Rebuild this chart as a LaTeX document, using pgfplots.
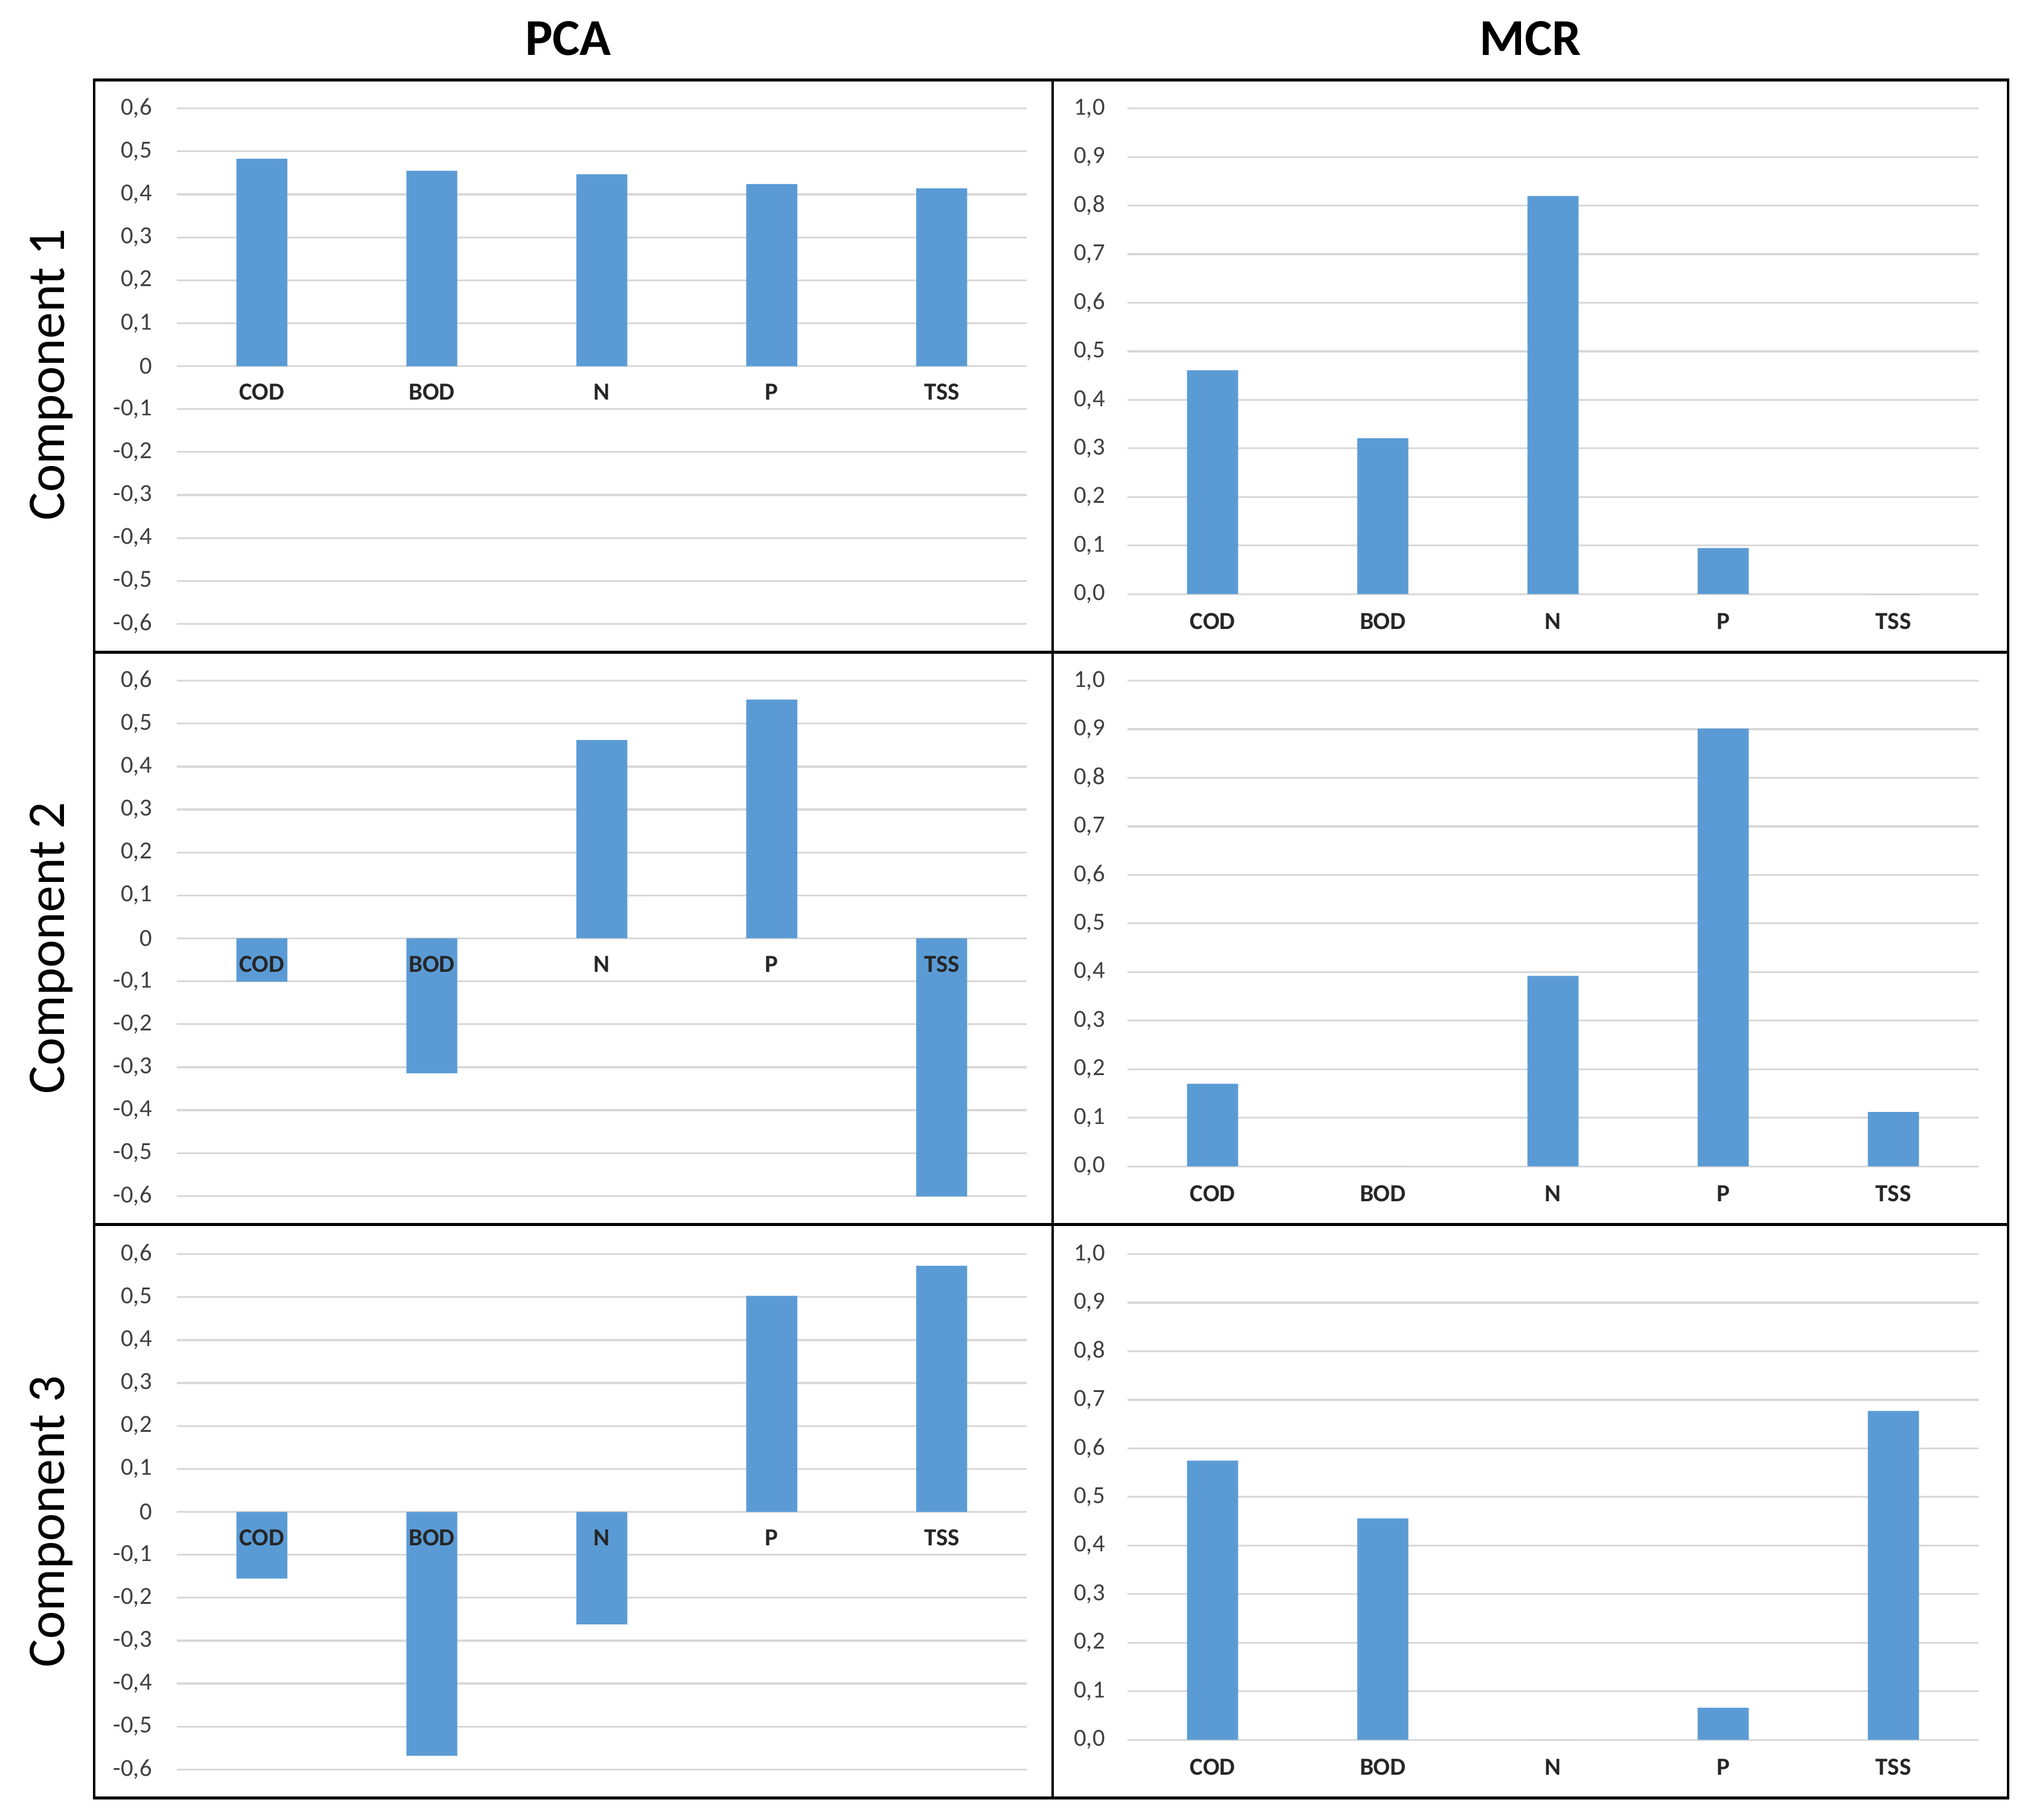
\documentclass[border=0pt]{standalone}
\usepackage{pgfplots}
\pgfplotsset{compat=1.18}
\usepackage{fontspec}
\setmainfont{Carlito}
\definecolor{barblue}{HTML}{5B9BD5}
\definecolor{gridgray}{HTML}{D9D9D9}
\definecolor{ticktext}{HTML}{404040}
\pgfplotsset{
  panel/.style={
    scale only axis, anchor=south west,
    xmin=-0.5, xmax=4.5,
    axis line style={draw=none}, tick style={draw=none}, major tick length=0pt,
    ymajorgrids, grid style={line width=0.75pt, color=gridgray},
    xtick={0,1,2,3,4}, xticklabels={COD,BOD,N,P,TSS},
    ybar, bar width=0.3, bar shift=0pt,
    xticklabel style={font=\fontsize{9.5}{10}\selectfont\bfseries, text=black!85, anchor=center},
    yticklabel style={font=\fontsize{9.5}{10}\selectfont, text=ticktext, anchor=east, inner sep=0pt, xshift=-9.5pt},
  },
  pca/.style={panel, width=329pt, height=199.5pt, ymin=-0.6, ymax=0.6,
    ytick={-0.6,-0.5,-0.4,-0.3,-0.2,-0.1,0,0.1,0.2,0.3,0.4,0.5,0.6},
    yticklabels={{-0,6},{-0,5},{-0,4},{-0,3},{-0,2},{-0,1},{0},{0,1},{0,2},{0,3},{0,4},{0,5},{0,6}},
    xticklabel style={yshift=89.75pt}},
  pcabars/.style={pca, xtick=\empty},
  pcalabels/.style={pca, ymajorgrids=false, ytick=\empty},
  mcr/.style={panel, width=329.5pt, height=188pt, ymin=0, ymax=1,
    ytick={0,0.1,0.2,0.3,0.4,0.5,0.6,0.7,0.8,0.9,1.0},
    yticklabels={{0,0},{0,1},{0,2},{0,3},{0,4},{0,5},{0,6},{0,7},{0,8},{0,9},{1,0}},
    yticklabel style={xshift=1pt},
    xticklabel style={yshift=-10.5pt}},
}
\begin{document}
\begin{tikzpicture}
\path[use as bounding box] (0,0) rectangle (784pt,704.5pt);
% PCA row 1
\begin{axis}[pcabars, at={(68.5pt,463pt)}]
\addplot[fill=barblue, draw=none] coordinates {(0,0.483) (1,0.455) (2,0.447) (3,0.424) (4,0.414)};
\end{axis}
\begin{axis}[pcalabels, at={(68.5pt,463pt)}]
\end{axis}
% MCR row 1
\begin{axis}[mcr, at={(436.5pt,474.5pt)}]
\addplot[fill=barblue, draw=none] coordinates {(0,0.461) (1,0.321) (2,0.820) (3,0.095) (4,0)};
\end{axis}
% PCA row 2
\begin{axis}[pcabars, at={(68.5pt,241.5pt)}]
\addplot[fill=barblue, draw=none] coordinates {(0,-0.101) (1,-0.314) (2,0.462) (3,0.556) (4,-0.603)};
\end{axis}
\begin{axis}[pcalabels, at={(68.5pt,241.5pt)}]
\end{axis}
% MCR row 2
\begin{axis}[mcr, at={(436.5pt,253pt)}]
\addplot[fill=barblue, draw=none] coordinates {(0,0.170) (1,0) (2,0.392) (3,0.901) (4,0.112)};
\end{axis}
% PCA row 3
\begin{axis}[pcabars, at={(68.5pt,19.5pt)}]
\addplot[fill=barblue, draw=none] coordinates {(0,-0.155) (1,-0.568) (2,-0.262) (3,0.503) (4,0.573)};
\end{axis}
\begin{axis}[pcalabels, at={(68.5pt,19.5pt)}]
\end{axis}
% MCR row 3
\begin{axis}[mcr, at={(436.5pt,31pt)}]
\addplot[fill=barblue, draw=none] coordinates {(0,0.575) (1,0.456) (2,0) (3,0.066) (4,0.677)};
\end{axis}
% frame
\draw[line width=1pt] (36.5pt,8.5pt) rectangle (777.5pt,673.5pt);
\draw[line width=1pt] (407.5pt,8.5pt) -- (407.5pt,673.5pt);
\draw[line width=1pt] (36.5pt,452pt) -- (777.5pt,452pt);
\draw[line width=1pt] (36.5pt,230.5pt) -- (777.5pt,230.5pt);
% titles
\node[font=\fontsize{20}{24}\selectfont\bfseries] at (220pt,689.5pt) {PCA};
\node[font=\fontsize{20}{24}\selectfont\bfseries] at (592.5pt,689.5pt) {MCR};
\node[font=\fontsize{20.5}{24}\selectfont, rotate=90] at (20pt,559.5pt) {Component 1};
\node[font=\fontsize{20.5}{24}\selectfont, rotate=90] at (20pt,337.5pt) {Component 2};
\node[font=\fontsize{20.5}{24}\selectfont, rotate=90] at (20pt,115.5pt) {Component 3};
\end{tikzpicture}
\end{document}
